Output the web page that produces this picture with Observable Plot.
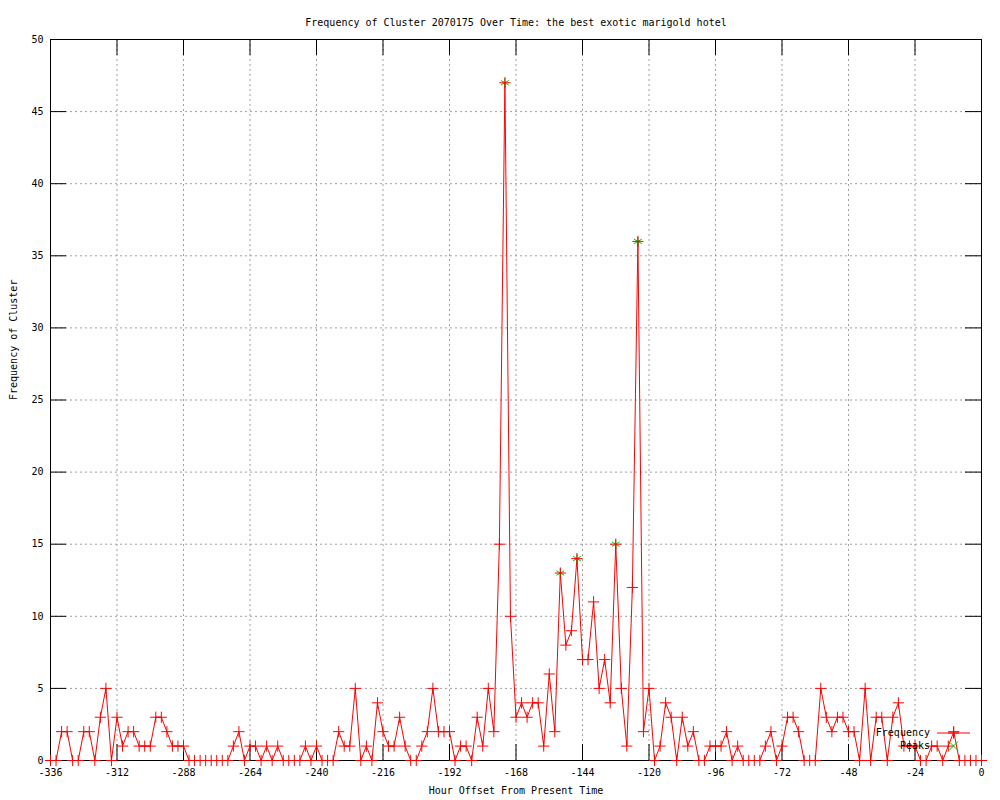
<!DOCTYPE html>
<html>
<head>
<meta charset="utf-8">
<script src="https://cdn.jsdelivr.net/npm/d3@7"></script>
<script src="https://cdn.jsdelivr.net/npm/@observablehq/plot@0.6"></script>
<style>
  html, body { margin: 0; padding: 0; background: #fff; }
  #chart { position: relative; width: 1000px; height: 800px; }
</style>
</head>
<body>
<div id="chart"></div>
<script>
// ---- data ----
const hours = [
  -336,-334,-332,-330,-328,-326,-324,-322,-320,-318,-316,-314,-312,-310,-308,-306,-304,-302,-300,-298,
  -296,-294,-292,-290,-288,-286,-284,-282,-280,-278,-276,-274,-272,-270,-268,-266,-264,-262,-260,-258,
  -256,-254,-252,-250,-248,-246,-244,-242,-240,-238,-236,-234,-232,-230,-228,-226,-224,-222,-220,-218,
  -216,-214,-212,-210,-208,-206,-204,-202,-200,-198,-196,-194,-192,-190,-188,-186,-184,-182,-180,-178,
  -176,-174,-172,-170,-168,-166,-164,-162,-160,-158,-156,-154,-152,-150,-148,-146,-144,-142,-140,-138,
  -136,-134,-132,-130,-128,-126,-124,-122,-120,-118,-116,-114,-112,-110,-108,-106,-104,-102,-100,-98,
  -96,-94,-92,-90,-88,-86,-84,-82,-80,-78,-76,-74,-72,-70,-68,-66,-64,-62,-60,-58,
  -56,-54,-52,-50,-48,-46,-44,-42,-40,-38,-36,-34,-32,-30,-28,-26,-24,-22,-20,-18,
  -16,-14,-12,-10,-8,-6,-4,-2,0
];
const frequency = [
  0,0,2,2,0,0,2,2,0,3,5,0,3,1,2,2,1,1,1,3,
  3,2,1,1,1,0,0,0,0,0,0,0,0,1,2,0,1,1,0,1,
  0,1,0,0,0,0,1,0,1,0,0,0,2,1,1,5,0,1,0,4,
  2,1,1,3,1,0,0,1,2,5,2,2,2,0,1,1,0,3,1,5,
  2,15,47,10,3,4,3,4,4,1,6,2,13,8,9,14,7,7,11,5,
  7,4,15,5,1,12,36,2,5,0,1,4,3,0,3,1,2,0,0,1,
  1,1,2,0,1,0,0,0,0,1,2,0,1,3,3,2,0,0,0,5,
  3,2,3,3,2,2,0,5,0,3,3,0,3,4,1,1,1,0,0,1,
  1,0,1,2,0,0,0,0,0
];
const peakHours  = [-172, -152, -146, -132, -124];
const peakValues = [47, 13, 14, 15, 36];

const xTicks = [-336,-312,-288,-264,-240,-216,-192,-168,-144,-120,-96,-72,-48,-24,0];
const yTicks = [0,5,10,15,20,25,30,35,40,45,50];

const titleText  = "Frequency of Cluster 2070175 Over Time: the best exotic marigold hotel";
const xLabelText = "Hour Offset From Present Time";
const yLabelText = "Frequency of Cluster";
const seriesNames = ["Frequency", "Peaks"];

// ---- build ----
const freqData = hours.map((h, i) => ({h, v: frequency[i]}));
const peakData = peakHours.map((h, i) => ({h, v: peakValues[i]}));

const W = 1000, H = 800;
const mL = 50, mR = 19, mT = 39, mB = 40;
const innerW = W - mL - mR, innerH = H - mT - mB;
const tickLen = 16;
const FONT = "DejaVu Sans Mono, monospace";
const RED = "#ff0000", GREEN = "#00c000", GRID = "#a0a0a0";
const R = 3.7;

const innerX = xTicks.slice(1, -1);
const innerY = yTicks.slice(1, -1);

const chart = Plot.plot({
  width: W, height: H,
  marginLeft: mL, marginRight: mR, marginTop: mT, marginBottom: mB,
  style: {fontFamily: FONT, fontSize: "10px", background: "#fff", color: "#000"},
  x: {domain: [-336, 0]},
  y: {domain: [0, 50]},
  marks: [
    // dotted grid
    Plot.ruleX(innerX, {stroke: GRID, strokeDasharray: "2,3", strokeWidth: 1}),
    Plot.ruleY(innerY, {stroke: GRID, strokeDasharray: "2,3", strokeWidth: 1}),
    // inward ticks (mirrored)
    Plot.ruleX(xTicks, {stroke: "#000", insetTop: innerH - tickLen}),
    Plot.ruleX(xTicks, {stroke: "#000", insetBottom: innerH - tickLen}),
    Plot.ruleY(yTicks, {stroke: "#000", insetRight: innerW - tickLen}),
    Plot.ruleY(yTicks, {stroke: "#000", insetLeft: innerW - tickLen}),
    Plot.frame({stroke: "#000"}),
    // tick labels
    Plot.axisX({ticks: xTicks, tickSize: 0, tickPadding: 8, tickFormat: d => String(d), label: null, fontSize: 10}),
    Plot.axisY({ticks: yTicks, tickSize: 0, tickPadding: 7, tickFormat: d => String(d), label: null, fontSize: 10}),
    // series
    Plot.line(freqData, {x: "h", y: "v", stroke: RED, strokeWidth: 1}),
    Plot.dot(peakData, {x: "h", y: "v", symbol: "asterisk", r: 4.2, stroke: GREEN, strokeWidth: 1}),
    Plot.dot(freqData, {x: "h", y: "v", symbol: "plus", r: R, stroke: RED, strokeWidth: 1}),
    // titles
    Plot.text([titleText], {text: d => d, frameAnchor: "top", dy: -21, fontSize: 10}),
    Plot.text([xLabelText], {text: d => d, frameAnchor: "bottom", dy: 33, fontSize: 10}),
    Plot.text([yLabelText], {text: d => d, frameAnchor: "left", dx: -37, rotate: -90, fontSize: 10})
  ]
});
document.getElementById("chart").appendChild(chart);

// ---- legend (inside plot, bottom-right) ----
const svg = d3.select(chart);
const lg = svg.append("g").attr("font-family", FONT).attr("font-size", 10);
const rowY = [733, 746];
lg.append("text").attr("x", 930).attr("y", rowY[0]).attr("dy", "0.32em")
  .attr("text-anchor", "end").attr("fill", "#000").text(seriesNames[0]);
lg.append("text").attr("x", 930).attr("y", rowY[1]).attr("dy", "0.32em")
  .attr("text-anchor", "end").attr("fill", "#000").text(seriesNames[1]);
lg.append("line").attr("x1", 937).attr("x2", 970).attr("y1", rowY[0]).attr("y2", rowY[0])
  .attr("stroke", RED);
lg.append("path").attr("transform", `translate(953.5,${rowY[0]})`)
  .attr("d", d3.symbol(d3.symbolPlus, Math.PI * R * R)()).attr("fill", "none").attr("stroke", RED);
lg.append("path").attr("transform", `translate(953.5,${rowY[1]})`)
  .attr("d", d3.symbol(d3.symbolTimes, Math.PI * 4.2 * 4.2)()).attr("fill", "none").attr("stroke", GREEN);
</script>
</body>
</html>
